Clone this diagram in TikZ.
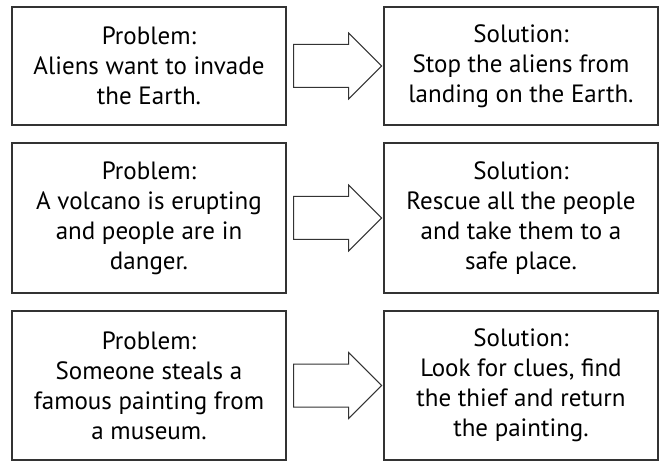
\documentclass[tikz,border=0pt]{standalone}
\usepackage{fontspec}
\setmainfont{PT Sans}
\usetikzlibrary{calc}
\tikzset{
	card/.style={draw=black!80, line width=1.3bp, minimum width=274bp, align=center, inner sep=0pt, font=\fontsize{25bp}{30bp}\selectfont}, % the text boxes
	bigarrow/.style={draw=black!80, line width=1bp, line join=miter} % hollow block arrow
}
\begin{document}
\begin{tikzpicture}[x=1bp,y=-1bp]
		\useasboundingbox (0,0) rectangle (661,461);
		% Problem boxes
		\node[card, minimum height=118bp] (prob1) at (149,66) {Problem:\\Aliens want to invade\\the Earth.};
		\node[card, minimum height=150bp] (prob2) at (149,218) {Problem:\\A volcano is erupting\\and people are in\\danger.};
		\node[card, minimum height=149bp] (prob3) at (149,385.5) {Problem:\\Someone steals a\\famous painting from\\a museum.};
		% Solution boxes
		\node[card, minimum height=118bp] (sol1) at (521,66) {Solution:\\Stop the aliens from\\landing on the Earth.};
		\node[card, minimum height=150bp] (sol2) at (521,218) {Solution:\\Rescue all the people\\and take them to a\\safe place.};
		\node[card, minimum height=149bp] (sol3) at (521,385.5) {Solution:\\Look for clues, find\\the thief and return\\the painting.};
		% Draw block arrows
		\foreach \r in {1,2,3}{
			\draw[bigarrow] ($(prob\r.east)+(7,-21.5)$) -- ++(55,0) -- ++(0,-11.5) -- ++(33,33) -- ++(-33,33) -- ++(0,-11.5) -- ++(-55,0) -- cycle;
		}
\end{tikzpicture}
\end{document}
